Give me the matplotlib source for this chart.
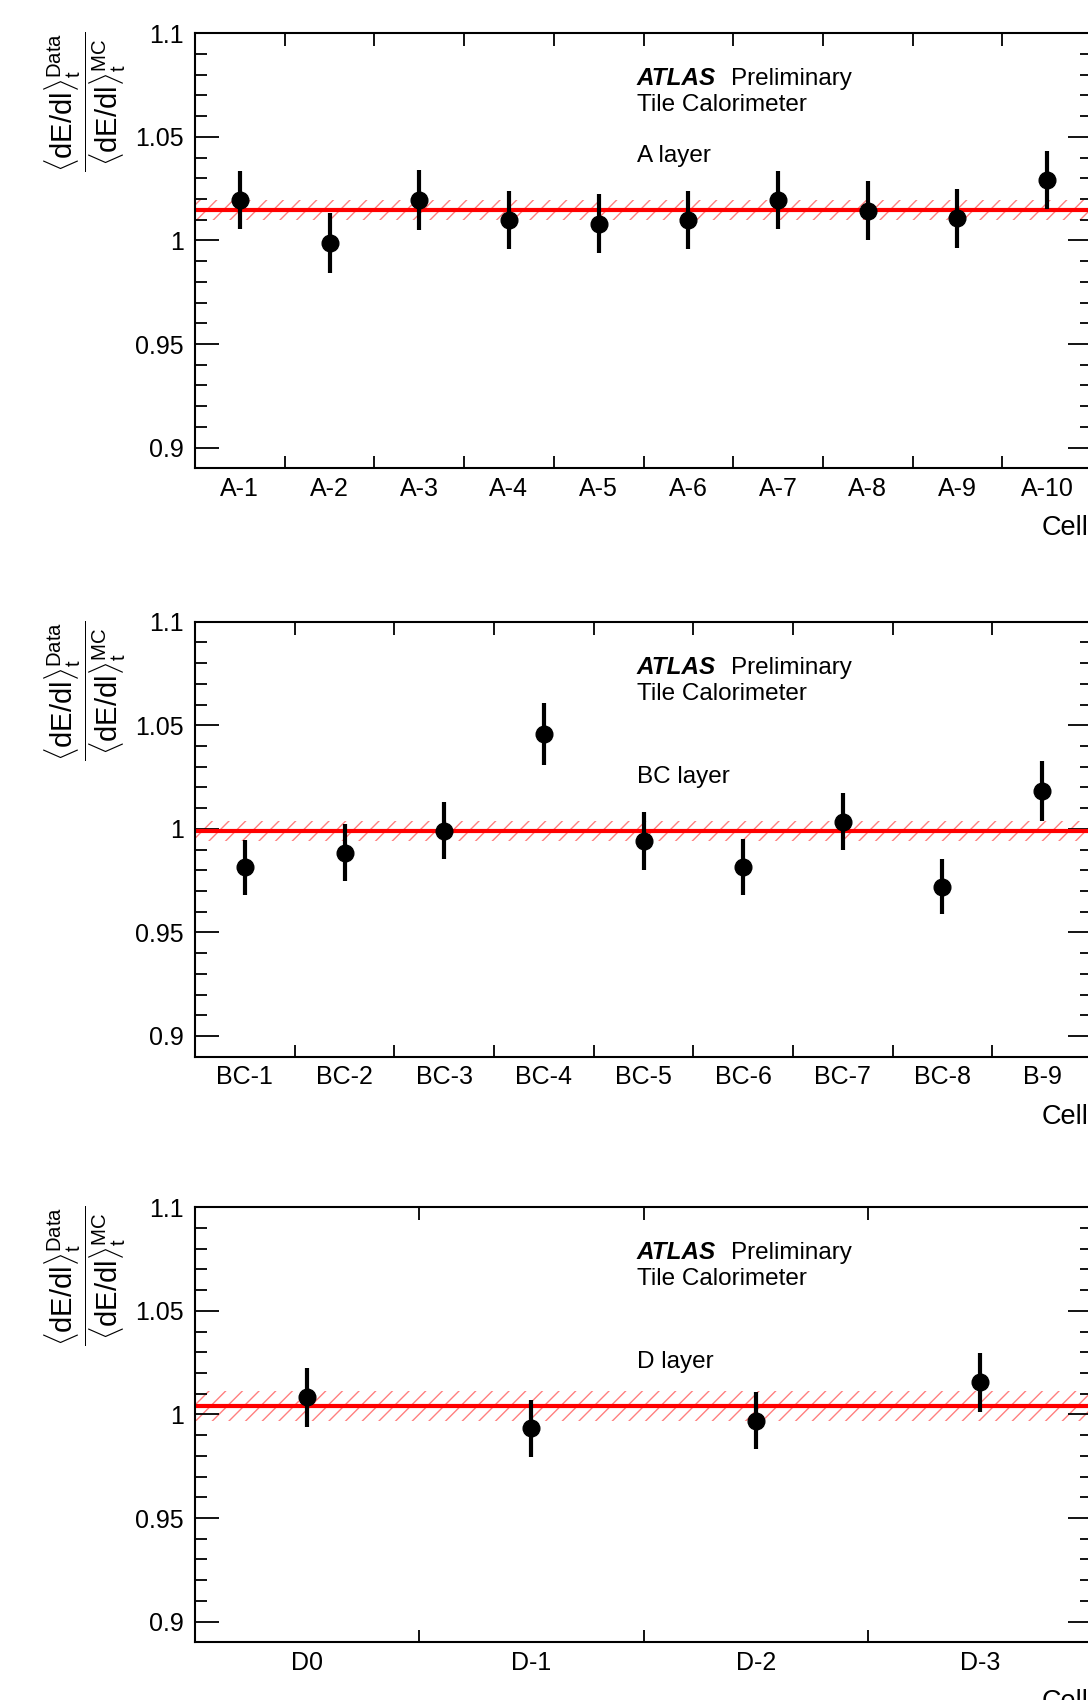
import numpy as np
import matplotlib
matplotlib.use('Agg')
import matplotlib.pyplot as plt
from matplotlib.ticker import MultipleLocator, FormatStrFormatter

# data
a_cells = ['A-1', 'A-2', 'A-3', 'A-4', 'A-5', 'A-6', 'A-7', 'A-8', 'A-9', 'A-10']
a_vals = [1.0195, 0.9986, 1.0195, 1.0099, 1.0080, 1.0099, 1.0195, 1.0144, 1.0107, 1.0292]
a_errs = [0.0142, 0.0145, 0.0146, 0.0142, 0.0142, 0.0142, 0.0142, 0.0142, 0.0143, 0.0142]
a_fit, a_band = 1.0146, 0.0048

bc_cells = ['BC-1', 'BC-2', 'BC-3', 'BC-4', 'BC-5', 'BC-6', 'BC-7', 'BC-8', 'B-9']
bc_vals = [0.9815, 0.9885, 0.9991, 1.0458, 0.9942, 0.9815, 1.0035, 0.9721, 1.0183]
bc_errs = [0.0132, 0.0137, 0.0137, 0.0150, 0.0141, 0.0134, 0.0138, 0.0134, 0.0146]
bc_fit, bc_band = 0.9988, 0.0048

d_cells = ['D0', 'D-1', 'D-2', 'D-3']
d_vals = [1.0083, 0.9933, 0.9970, 1.0155]
d_errs = [0.0143, 0.0138, 0.0139, 0.0144]
d_fit, d_band = 1.0040, 0.0072

layers = ['A layer', 'BC layer', 'D layer']

plt.rcParams['font.family'] = ['Liberation Sans', 'DejaVu Sans']
plt.rcParams['mathtext.fontset'] = 'custom'
plt.rcParams['mathtext.rm'] = 'Liberation Sans'
plt.rcParams['mathtext.it'] = 'Liberation Sans:italic'
plt.rcParams['mathtext.bf'] = 'Liberation Sans:bold'
plt.rcParams['hatch.linewidth'] = 1.0
plt.rcParams['hatch.color'] = '#ff000080'

W, H = 1088, 1700
fig = plt.figure(figsize=(W / 100, H / 100), dpi=100)

ylab = (r'$\dfrac{\langle\mathrm{dE/dl}\rangle_{\mathrm{t}}^{\mathrm{Data}}}'
        r'{\langle\mathrm{dE/dl}\rangle_{\mathrm{t}}^{\mathrm{MC}}}$')

panels = [
    (a_cells, a_vals, a_errs, a_fit, a_band, layers[0], 33.3, 129),
    (bc_cells, bc_vals, bc_errs, bc_fit, bc_band, layers[1], 621.7, 161),
    (d_cells, d_vals, d_errs, d_fit, d_band, layers[2], 1207.3, 161),
]

left_px, right_px, h_px = 195, 1092, 435
txt = 17.5

for cells, vals, errs, fit, band, lay, top, lay_off in panels:
    n = len(cells)
    ax = fig.add_axes([left_px / W, 1 - (top + h_px) / H,
                       (right_px - left_px) / W, h_px / H])
    x = np.arange(n) + 0.5

    ax.fill_between([0, n], fit - band, fit + band, facecolor='none',
                    edgecolor='#ff000080', hatch='//', linewidth=0)
    ax.axhline(fit, color='red', lw=3)
    ax.errorbar(x, vals, yerr=errs, fmt='o', color='black', ms=12,
                elinewidth=3, capsize=0, zorder=5)

    ax.set_xlim(0, n)
    ax.set_ylim(0.89, 1.1)

    ax.set_xticks(np.arange(n + 1))
    ax.set_xticklabels([])
    ax.set_xticks(x, minor=True)
    ax.set_xticklabels(cells, minor=True)
    ax.tick_params(axis='x', which='major', direction='in', length=9,
                   width=1.3, top=True, bottom=True)
    ax.tick_params(axis='x', which='minor', length=0, pad=6, labelsize=18)

    ax.yaxis.set_major_locator(MultipleLocator(0.05))
    ax.yaxis.set_minor_locator(MultipleLocator(0.01))
    ax.yaxis.set_major_formatter(FormatStrFormatter('%g'))
    ax.tick_params(axis='y', which='major', direction='in', length=17,
                   width=1.3, left=True, right=True, labelsize=18, pad=8)
    ax.tick_params(axis='y', which='minor', direction='in', length=8.6,
                   width=1.3, left=True, right=True)
    for s in ax.spines.values():
        s.set_linewidth(1.5)

    fig.text(85 / W, 1 - (top - 1) / H, ylab, rotation=90, ha='center',
             va='top', fontsize=21)
    fig.text(637 / W, 1 - (top + 52) / H, 'ATLAS', fontsize=txt,
             weight='bold', style='italic', va='baseline')
    fig.text(731 / W, 1 - (top + 52) / H, 'Preliminary', fontsize=txt,
             va='baseline')
    fig.text(637 / W, 1 - (top + 78) / H, 'Tile Calorimeter', fontsize=txt,
             va='baseline')
    fig.text(637 / W, 1 - (top + lay_off) / H, lay, fontsize=txt,
             va='baseline')
    fig.text(1042 / W, 1 - (top + h_px + 67) / H, 'Cell', fontsize=19.5,
             va='baseline')

fig.savefig('out.png', dpi=100)
